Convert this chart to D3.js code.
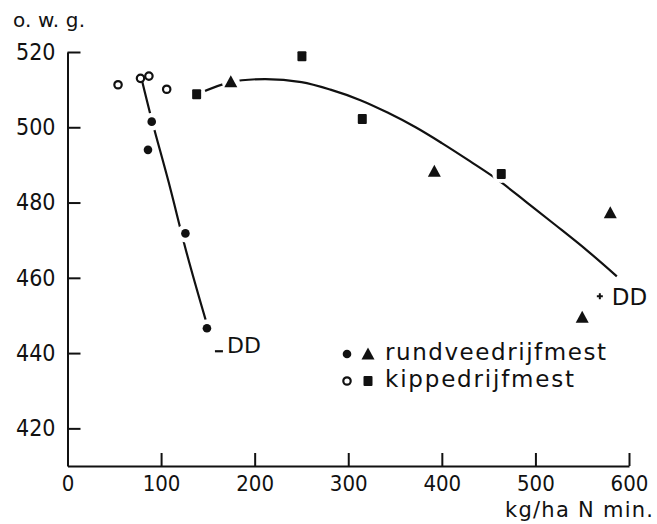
<!DOCTYPE html>
<html>
<head>
<meta charset="utf-8">
<script src="https://cdn.jsdelivr.net/npm/d3@7"></script>
<style>
  body { margin: 0; background: #fff; }
  svg text { font-family: "DejaVu Sans", sans-serif; fill: #111; }
  .axis text { font-family: "DejaVu Sans Condensed", "DejaVu Sans", sans-serif; font-stretch: condensed; }
  .axis path, .axis line { stroke: #111; stroke-width: 2; }
</style>
</head>
<body>
<div id="chart"></div>
<script>
// --- data ---
const xTicks = [0, 100, 200, 300, 400, 500, 600];
const yTicks = [420, 440, 460, 480, 500, 520];

// rundveedrijfmest, low N (filled dots)
const rundDots = [[90, 501.5], [86, 494], [126, 471.8], [149, 446.6]];
// kippedrijfmest, low N (open circles)
const kipCircles = [[54, 511.3], [78, 513], [87, 513.6], [106, 510.1]];
// rundveedrijfmest, high N (triangles)
const rundTriangles = [[174.5, 512.1], [392, 488.3], [550, 449.5], [580, 477.3]];
// kippedrijfmest, high N (squares)
const kipSquares = [[138, 508.8], [250.5, 518.9], [315, 502.2], [463.5, 487.6]];

// fitted curves
const curveLow = [[79, 513], [90, 502], [108, 485.5], [128, 466], [148, 448.5]];
const curveHigh = [[140, 508.9], [174, 512], [211, 512.8], [250, 512], [281, 510], [313, 507.2],
  [342, 503.9], [372, 500], [400, 495.8], [430, 491], [460, 486], [490, 480.2], [520, 474.3],
  [555, 467.3], [587, 460.4]];

const legendItems = [
  { label: "rundveedrijfmest", small: "dot", big: "triangle" },
  { label: "kippedrijfmest", small: "circle", big: "square" }
];

const width = 657, height = 524;

const svg = d3.select("#chart").append("svg")
  .attr("width", width).attr("height", height);

const x = d3.scaleLinear().domain([0, 600]).range([67.5, 629]);
const y = d3.scaleLinear().domain([410, 520]).range([466, 52]);

// axes
const xAxis = svg.append("g").attr("class", "axis")
  .attr("transform", `translate(0,${y(410)})`)
  .call(d3.axisBottom(x).tickValues(xTicks).tickSize(-13).tickSizeOuter(0).tickPadding(9));
xAxis.selectAll("text").style("font-size", "22px");

const yAxis = svg.append("g").attr("class", "axis")
  .attr("transform", `translate(${x(0)},0)`)
  .call(d3.axisLeft(y).tickValues(yTicks).tickSize(-13).tickSizeOuter(0).tickPadding(12));
yAxis.selectAll("text").style("font-size", "23px");
svg.selectAll(".axis text").attr("fill", "#111");

svg.append("text").attr("x", 13).attr("y", 27).style("font-size", "20px")
  .attr("textLength", 72).attr("lengthAdjust", "spacing").text("o. w. g.");
svg.append("text").attr("x", 653).attr("y", 517).attr("text-anchor", "end")
  .style("font-size", "21px").attr("textLength", 148).attr("lengthAdjust", "spacing")
  .text("kg/ha N min.");

// curves
const line = d3.line().x(d => x(d[0])).y(d => y(d[1])).curve(d3.curveCatmullRom);
svg.append("path").attr("d", line(curveLow)).attr("fill", "none").attr("stroke", "#111").attr("stroke-width", 2.2);
svg.append("path").attr("d", line(curveHigh)).attr("fill", "none").attr("stroke", "#111").attr("stroke-width", 2.2);

// white halos so the curve stops short of the markers
const halos = svg.append("g");
halos.selectAll("circle")
  .data([...rundDots, ...rundTriangles, ...kipSquares])
  .join("circle")
  .attr("cx", d => x(d[0])).attr("cy", d => y(d[1])).attr("r", 9).attr("fill", "#fff");

// marker shapes
const tri = (cx, cy, s) => `M${cx},${cy - s * 0.5}L${cx + s * 0.5},${cy + s * 0.42}L${cx - s * 0.5},${cy + s * 0.42}Z`;

function drawMarker(g, type, cx, cy) {
  if (type === "dot") g.append("circle").attr("cx", cx).attr("cy", cy).attr("r", 4.3).attr("fill", "#111");
  if (type === "circle") g.append("circle").attr("cx", cx).attr("cy", cy).attr("r", 3.7)
    .attr("fill", "#fff").attr("stroke", "#111").attr("stroke-width", 2.2);
  if (type === "triangle") g.append("path").attr("d", tri(cx, cy, 13)).attr("fill", "#111");
  if (type === "square") g.append("rect").attr("x", cx - 4.5).attr("y", cy - 5).attr("width", 9).attr("height", 10)
    .attr("rx", 1).attr("fill", "#111");
}

const marks = svg.append("g");
rundDots.forEach(d => drawMarker(marks, "dot", x(d[0]), y(d[1])));
kipCircles.forEach(d => drawMarker(marks, "circle", x(d[0]), y(d[1])));
rundTriangles.forEach(d => drawMarker(marks, "triangle", x(d[0]), y(d[1])));
kipSquares.forEach(d => drawMarker(marks, "square", x(d[0]), y(d[1])));

// DD annotations
const endLow = rundDots[3];
svg.append("line")
  .attr("x1", x(endLow[0]) + 8).attr("x2", x(endLow[0]) + 16)
  .attr("y1", y(endLow[1]) + 23).attr("y2", y(endLow[1]) + 23)
  .attr("stroke", "#111").attr("stroke-width", 2.2);
svg.append("text").attr("x", x(endLow[0]) + 20).attr("y", y(endLow[1]) + 24.5)
  .style("font-size", "22px").text("DD");

const endHigh = curveHigh[curveHigh.length - 1];
const px = x(endHigh[0]) - 17, py = y(endHigh[1]) + 20;
svg.append("path").attr("d", `M${px - 3},${py}H${px + 3}M${px},${py - 3}V${py + 3}`)
  .attr("stroke", "#111").attr("stroke-width", 2);
svg.append("text").attr("x", px + 12).attr("y", py + 8.5)
  .style("font-size", "23px").text("DD");

// legend
const legend = svg.append("g").attr("transform", "translate(347,354)");
legendItems.forEach((item, i) => {
  const g = legend.append("g").attr("transform", `translate(0,${i * 27})`);
  drawMarker(g, item.small, 0, 0);
  drawMarker(g, item.big, 21, 0);
  g.append("text").attr("x", 38).attr("y", 6).style("font-size", "23px")
    .attr("textLength", i === 0 ? 221 : 189).attr("lengthAdjust", "spacing")
    .text(item.label);
});
</script>
</body>
</html>
